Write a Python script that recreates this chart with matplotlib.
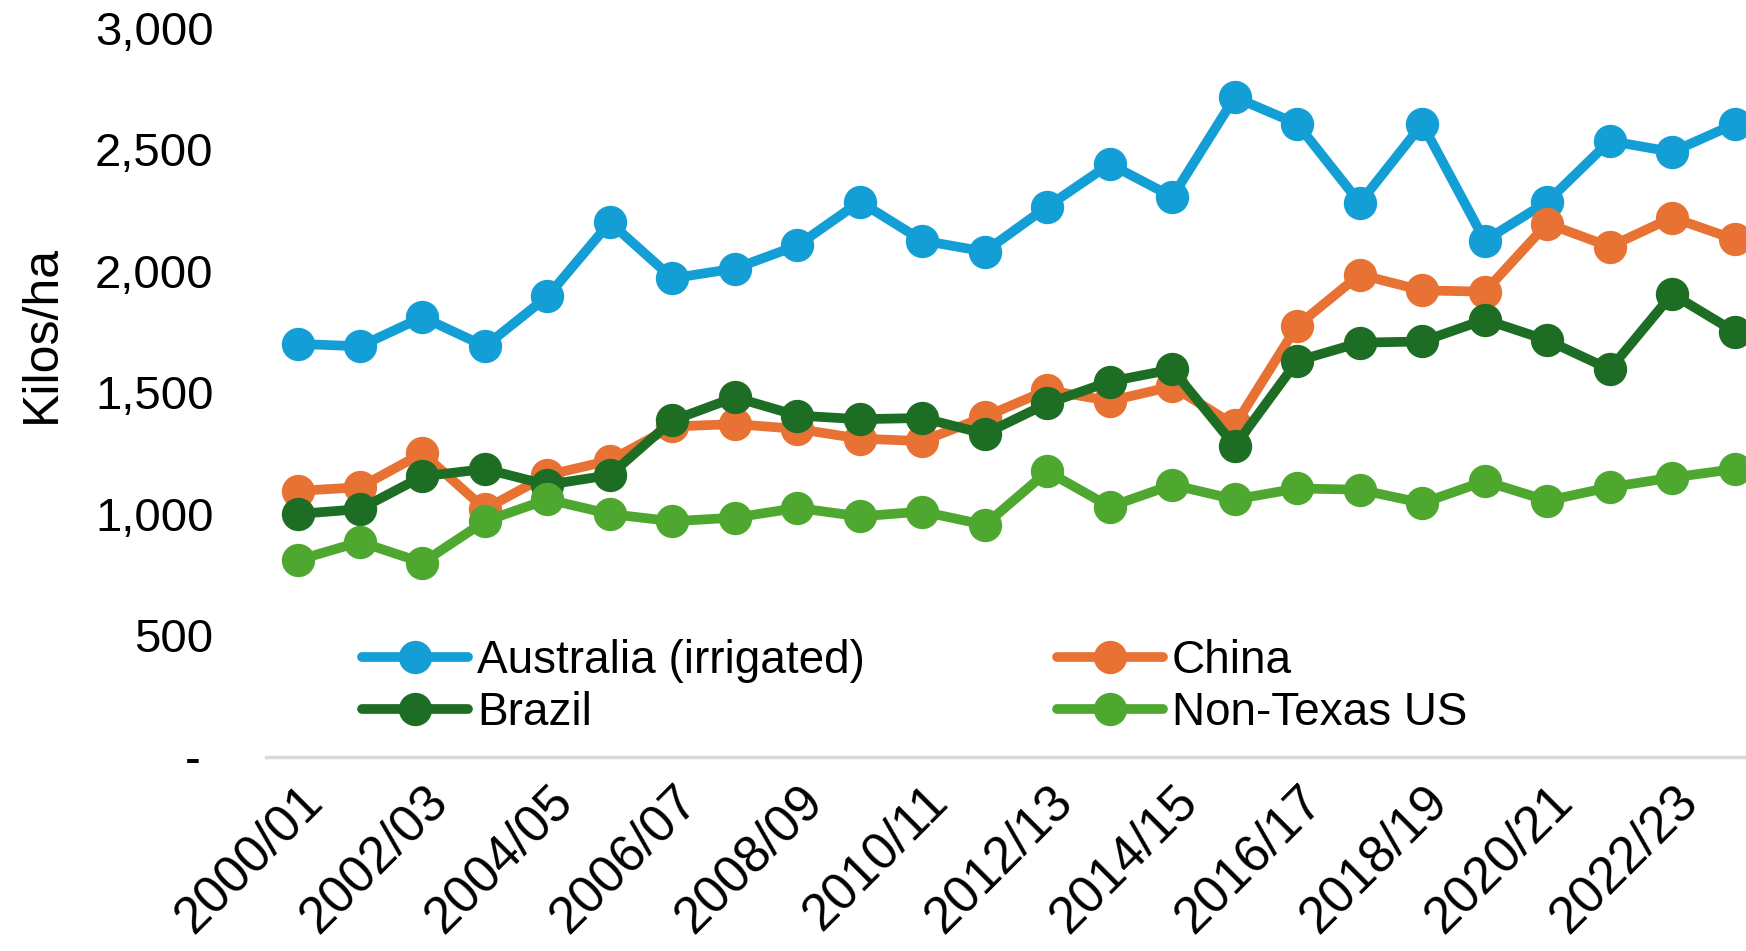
import matplotlib
matplotlib.use("Agg")
import matplotlib.pyplot as plt
from matplotlib.ticker import FuncFormatter
import numpy as np

seasons = ["2000/01", "2001/02", "2002/03", "2003/04", "2004/05", "2005/06",
           "2006/07", "2007/08", "2008/09", "2009/10", "2010/11", "2011/12",
           "2012/13", "2013/14", "2014/15", "2015/16", "2016/17", "2017/18",
           "2018/19", "2019/20", "2020/21", "2021/22", "2022/23", "2023/24"]

australia = [1700, 1690, 1810, 1690, 1895, 2200, 1970, 2010, 2105, 2285, 2125, 2080,
             2265, 2440, 2305, 2715, 2605, 2280, 2605, 2125, 2285, 2535, 2490, 2605]
china = [1095, 1110, 1250, 1020, 1160, 1220, 1360, 1370, 1350, 1310, 1300, 1400,
         1510, 1465, 1525, 1365, 1775, 1985, 1920, 1915, 2195, 2100, 2220, 2130]
brazil = [1000, 1020, 1155, 1185, 1120, 1160, 1385, 1480, 1405, 1390, 1395, 1330,
          1455, 1545, 1595, 1280, 1630, 1705, 1710, 1800, 1715, 1595, 1905, 1750]
non_texas = [810, 885, 800, 970, 1060, 1000, 970, 985, 1025, 990, 1010, 955,
             1175, 1030, 1120, 1060, 1105, 1100, 1045, 1135, 1055, 1110, 1150, 1185]

series = [("Australia (irrigated)", australia, "#139FD6"),
          ("China", china, "#E87234"),
          ("Brazil", brazil, "#1D6E24"),
          ("Non-Texas US", non_texas, "#4EA82F")]

plt.rcParams['font.family'] = ["Liberation Sans", "DejaVu Sans"]

fig = plt.figure(figsize=(17.46, 9.51), dpi=100)
ax = fig.add_axes([0.1525, 0.204, 0.8475, 0.7666])

x = np.arange(len(seasons))
lines = {}
for name, vals, col in series:
    lines[name], = ax.plot(x, vals, color=col, lw=7, marker='o', ms=23, label=name,
                           solid_capstyle='round')

ax.set_xlim(-0.5, 23.18)
ax.set_ylim(0, 3000)
ax.set_yticks(np.arange(0, 3001, 500))
ax.yaxis.set_major_formatter(FuncFormatter(lambda v, p: f"{v:,.0f}" if v > 0 else "- "))
ax.set_xticks(x[::2])
ax.set_xticklabels(seasons[::2], rotation=45, ha='right', rotation_mode='anchor')
ax.tick_params(axis='both', length=0)
ax.tick_params(axis='y', pad=38, labelsize=34)
ax.tick_params(axis='x', pad=14, labelsize=37)

for s in ['top', 'right', 'left']:
    ax.spines[s].set_visible(False)
ax.spines['bottom'].set_color('#D9D9D9')
ax.spines['bottom'].set_linewidth(2.5)

fig.text(0.024, 0.649, "Kilos/ha", rotation=90, ha='center', va='center',
         fontsize=36)

# column-first fill, so this order puts Australia/China on the top row
order = ["Australia (irrigated)", "Brazil", "China", "Non-Texas US"]
leg = ax.legend([lines[n] for n in order], order, loc='upper left',
                bbox_to_anchor=(0.065, 0.162), ncol=2, frameon=False,
                prop={'size': 33}, handlelength=2.3, handletextpad=0.2,
                columnspacing=4.2, labelspacing=0.17, borderaxespad=0, borderpad=0)

fig.savefig("out.png", dpi=100)
